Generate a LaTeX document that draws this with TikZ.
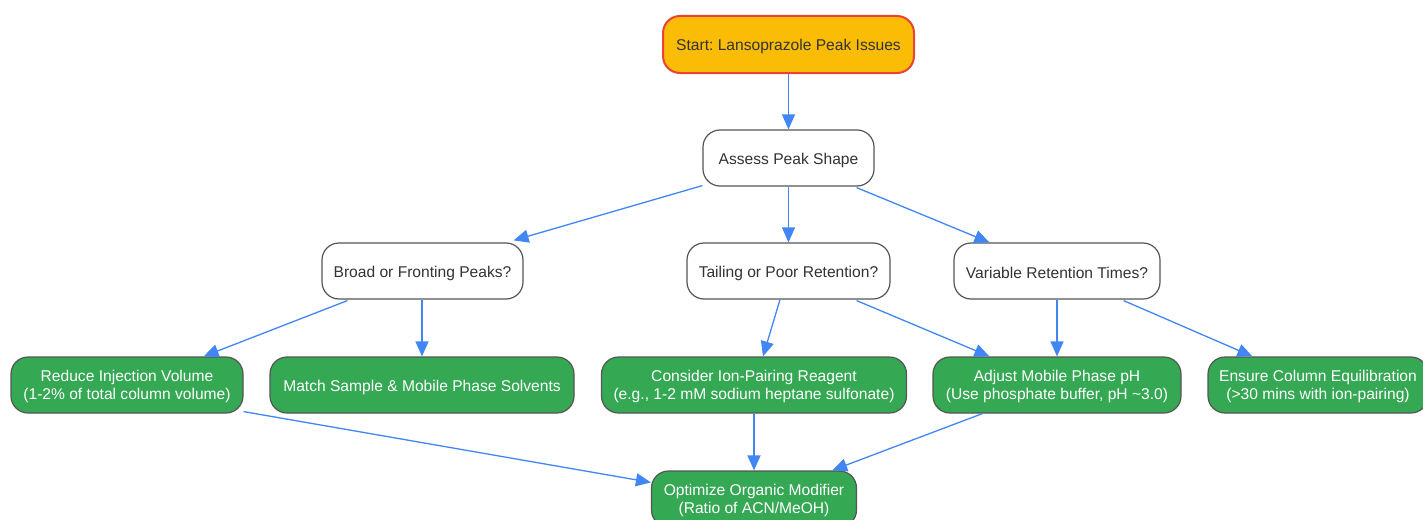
\documentclass[tikz,border=0pt]{standalone}
\usepackage{fontspec}
\setmainfont{Liberation Sans}
\usetikzlibrary{arrows.meta,calc}
\definecolor{startfill}{HTML}{FBBC05}
\definecolor{startline}{HTML}{EA4335}
\definecolor{greenfill}{HTML}{34A853}
\definecolor{boxline}{HTML}{555555}
\definecolor{arrowblue}{HTML}{4285F4}
\definecolor{txt}{HTML}{333333}
\tikzset{
  box/.style={draw=boxline, line width=1.2pt, rounded corners=17pt, inner sep=0pt, align=center, minimum height=56pt, font=\fontsize{15.6}{18.2}\selectfont\frenchspacing, text=txt},
  startbox/.style={box, fill=startfill, draw=startline, line width=2pt},
  plainbox/.style={box, fill=white},
  greenbox/.style={box, fill=greenfill, text=white},
  arr/.style={draw=arrowblue, line width=1.3pt, -{Triangle[length=15pt,width=13pt]}}
}
\newcommand{\lowr}[1]{\raisebox{-2pt}[\height][\depth]{#1}}
\newcommand{\twol}[2]{\raisebox{-1.5pt}[\height][\depth]{\begin{tabular}{@{}c@{}}#1\\#2\end{tabular}}}
\begin{document}
\begin{tikzpicture}[x=1pt,y=-1pt]
\useasboundingbox (0,0) rectangle (1423,519);
\node[startbox, minimum width=251pt, minimum height=57pt] (start) at (788.5,44.5) {\lowr{Start: Lansoprazole Peak Issues}};
\node[plainbox, minimum width=171pt] (assess) at (788.5,158) {\lowr{Assess Peak Shape}};
\node[plainbox, minimum width=201pt] (broad) at (422.5,271) {\lowr{Broad or Fronting Peaks?}};
\node[plainbox, minimum width=203pt] (tail) at (788.5,271) {\lowr{Tailing or Poor Retention?}};
\node[plainbox, minimum width=206pt] (var) at (1057,271) {\lowr{Variable Retention Times?}};
\node[greenbox, minimum width=232pt] (reduce) at (127,385) {\twol{Reduce Injection Volume}{(1-2\% of total column volume)}};
\node[greenbox, minimum width=304pt] (match) at (422,385) {\lowr{Match Sample \& Mobile Phase Solvents}};
\node[greenbox, minimum width=305pt] (ion) at (754,385) {\twol{Consider Ion-Pairing Reagent}{(e.g., 1-2 mM sodium heptane sulfonate)}};
\node[greenbox, minimum width=248pt] (ph) at (1057,385) {\twol{Adjust Mobile Phase pH}{(Use phosphate buffer, pH \textasciitilde3.0)}};
\node[greenbox, minimum width=220pt] (equil) at (1318,385) {\twol{Ensure Column Equilibration}{(>30 mins with ion-pairing)}};
\node[greenbox, minimum width=205pt] (opt) at (754,499) {\twol{Optimize Organic Modifier}{(Ratio of ACN/MeOH)}};

\draw[arr] (start) -- (assess);
\draw[arr] ($(assess.south west)+(0,-1)$) -- ($(broad.north east)+(-10,-2)$);
\draw[arr] (assess) -- (tail);
\draw[arr] ($(assess.south east)+(-18,1)$) -- ($(var.north west)+(36,0)$);
\draw[arr] ($(broad.south west)+(26,1)$) -- ($(reduce.north east)+(-40,0)$);
\draw[arr] ($(broad.south)+(-0.5,0)$) -- (match.north);
\draw[arr] ($(tail.south)+(-8.5,0)$) -- ($(ion.north)+(9,0)$);
\draw[arr] ($(tail.south east)+(-34,1)$) -- ($(ph.north west)+(57,0)$);
\draw[arr] (var) -- (ph);
\draw[arr] ($(var.south east)+(-37,1)$) -- ($(equil.north west)+(45,0)$);
\draw[arr] ($(reduce.south east)+(0,-2)$) -- ($(opt.north west)+(0,12)$);
\draw[arr] (ion) -- (opt);
\draw[arr] ($(ph.south west)+(50,0)$) -- ($(opt.north east)+(-25,0)$);
\end{tikzpicture}
\end{document}
